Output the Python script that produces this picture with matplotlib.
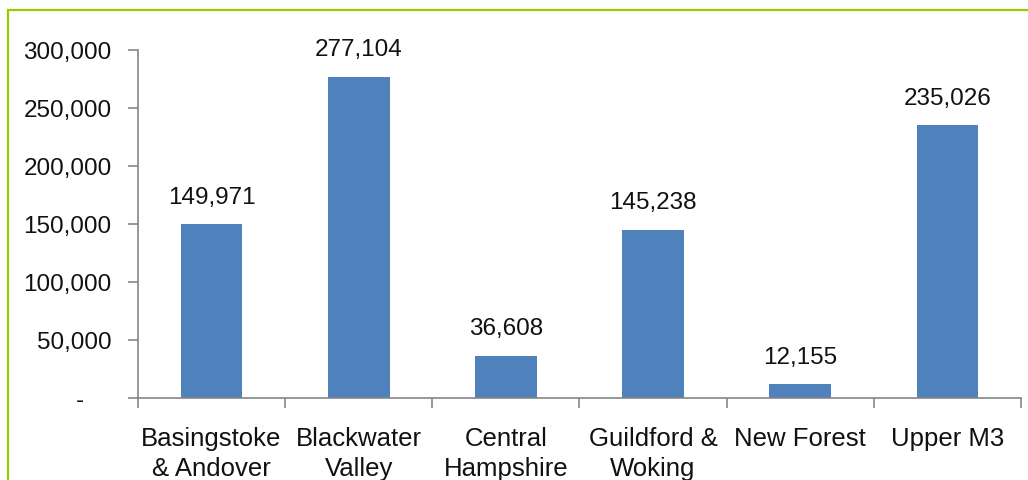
import matplotlib.pyplot as plt
from matplotlib.patches import Rectangle
from matplotlib.ticker import FuncFormatter

plt.rcParams['font.family'] = ['Liberation Sans', 'DejaVu Sans']

areas = ['Basingstoke\n& Andover', 'Blackwater\nValley', 'Central\nHampshire',
         'Guildford &\nWoking', 'New Forest', 'Upper M3']
values = [149971, 277104, 36608, 145238, 12155, 235026]
yticks = [0, 50000, 100000, 150000, 200000, 250000, 300000]

fig = plt.figure(figsize=(10.28, 4.8), dpi=100)
ax = fig.add_axes([0.1342, 0.1708, 0.859, 0.725])

x = list(range(len(areas)))
ax.bar(x, values, width=0.42, color='#4F81BD')
for xi, v in zip(x, values):
    ax.annotate(f'{v:,}', (xi, v), xytext=(0, 11), textcoords='offset points',
                ha='center', va='bottom', fontsize=17.5, color='#111111')

ax.set_xlim(-0.5, len(areas) - 0.5)
ax.set_ylim(0, 300000)
ax.set_yticks(yticks)
ax.yaxis.set_major_formatter(FuncFormatter(lambda v, p: '-    ' if v == 0 else f'{int(v):,}'))
ax.set_xticks([i - 0.5 for i in range(len(areas) + 1)])
ax.set_xticklabels([])
ax.set_xticks(x, minor=True)
ax.set_xticklabels(areas, minor=True, fontsize=18.5, linespacing=1.3, va='top', color='#111111')
ax.tick_params(axis='x', which='minor', length=0, pad=21)
ax.tick_params(axis='x', which='major', length=7, color='#868686', width=1.2)
ax.tick_params(axis='y', length=7, color='#868686', width=1.2, labelsize=17.5, pad=12,
               labelcolor='#111111')

for s in ['top', 'right']:
    ax.spines[s].set_visible(False)
for s in ['left', 'bottom']:
    ax.spines[s].set_color('#868686')
    ax.spines[s].set_linewidth(1.2)

fig.patches.append(Rectangle((8 / 1028, -0.1), 1.2, 1.1 - 10 / 480, transform=fig.transFigure,
                             fill=False, edgecolor='#99CC00', linewidth=1.6))

fig.savefig('out.png', dpi=100)
